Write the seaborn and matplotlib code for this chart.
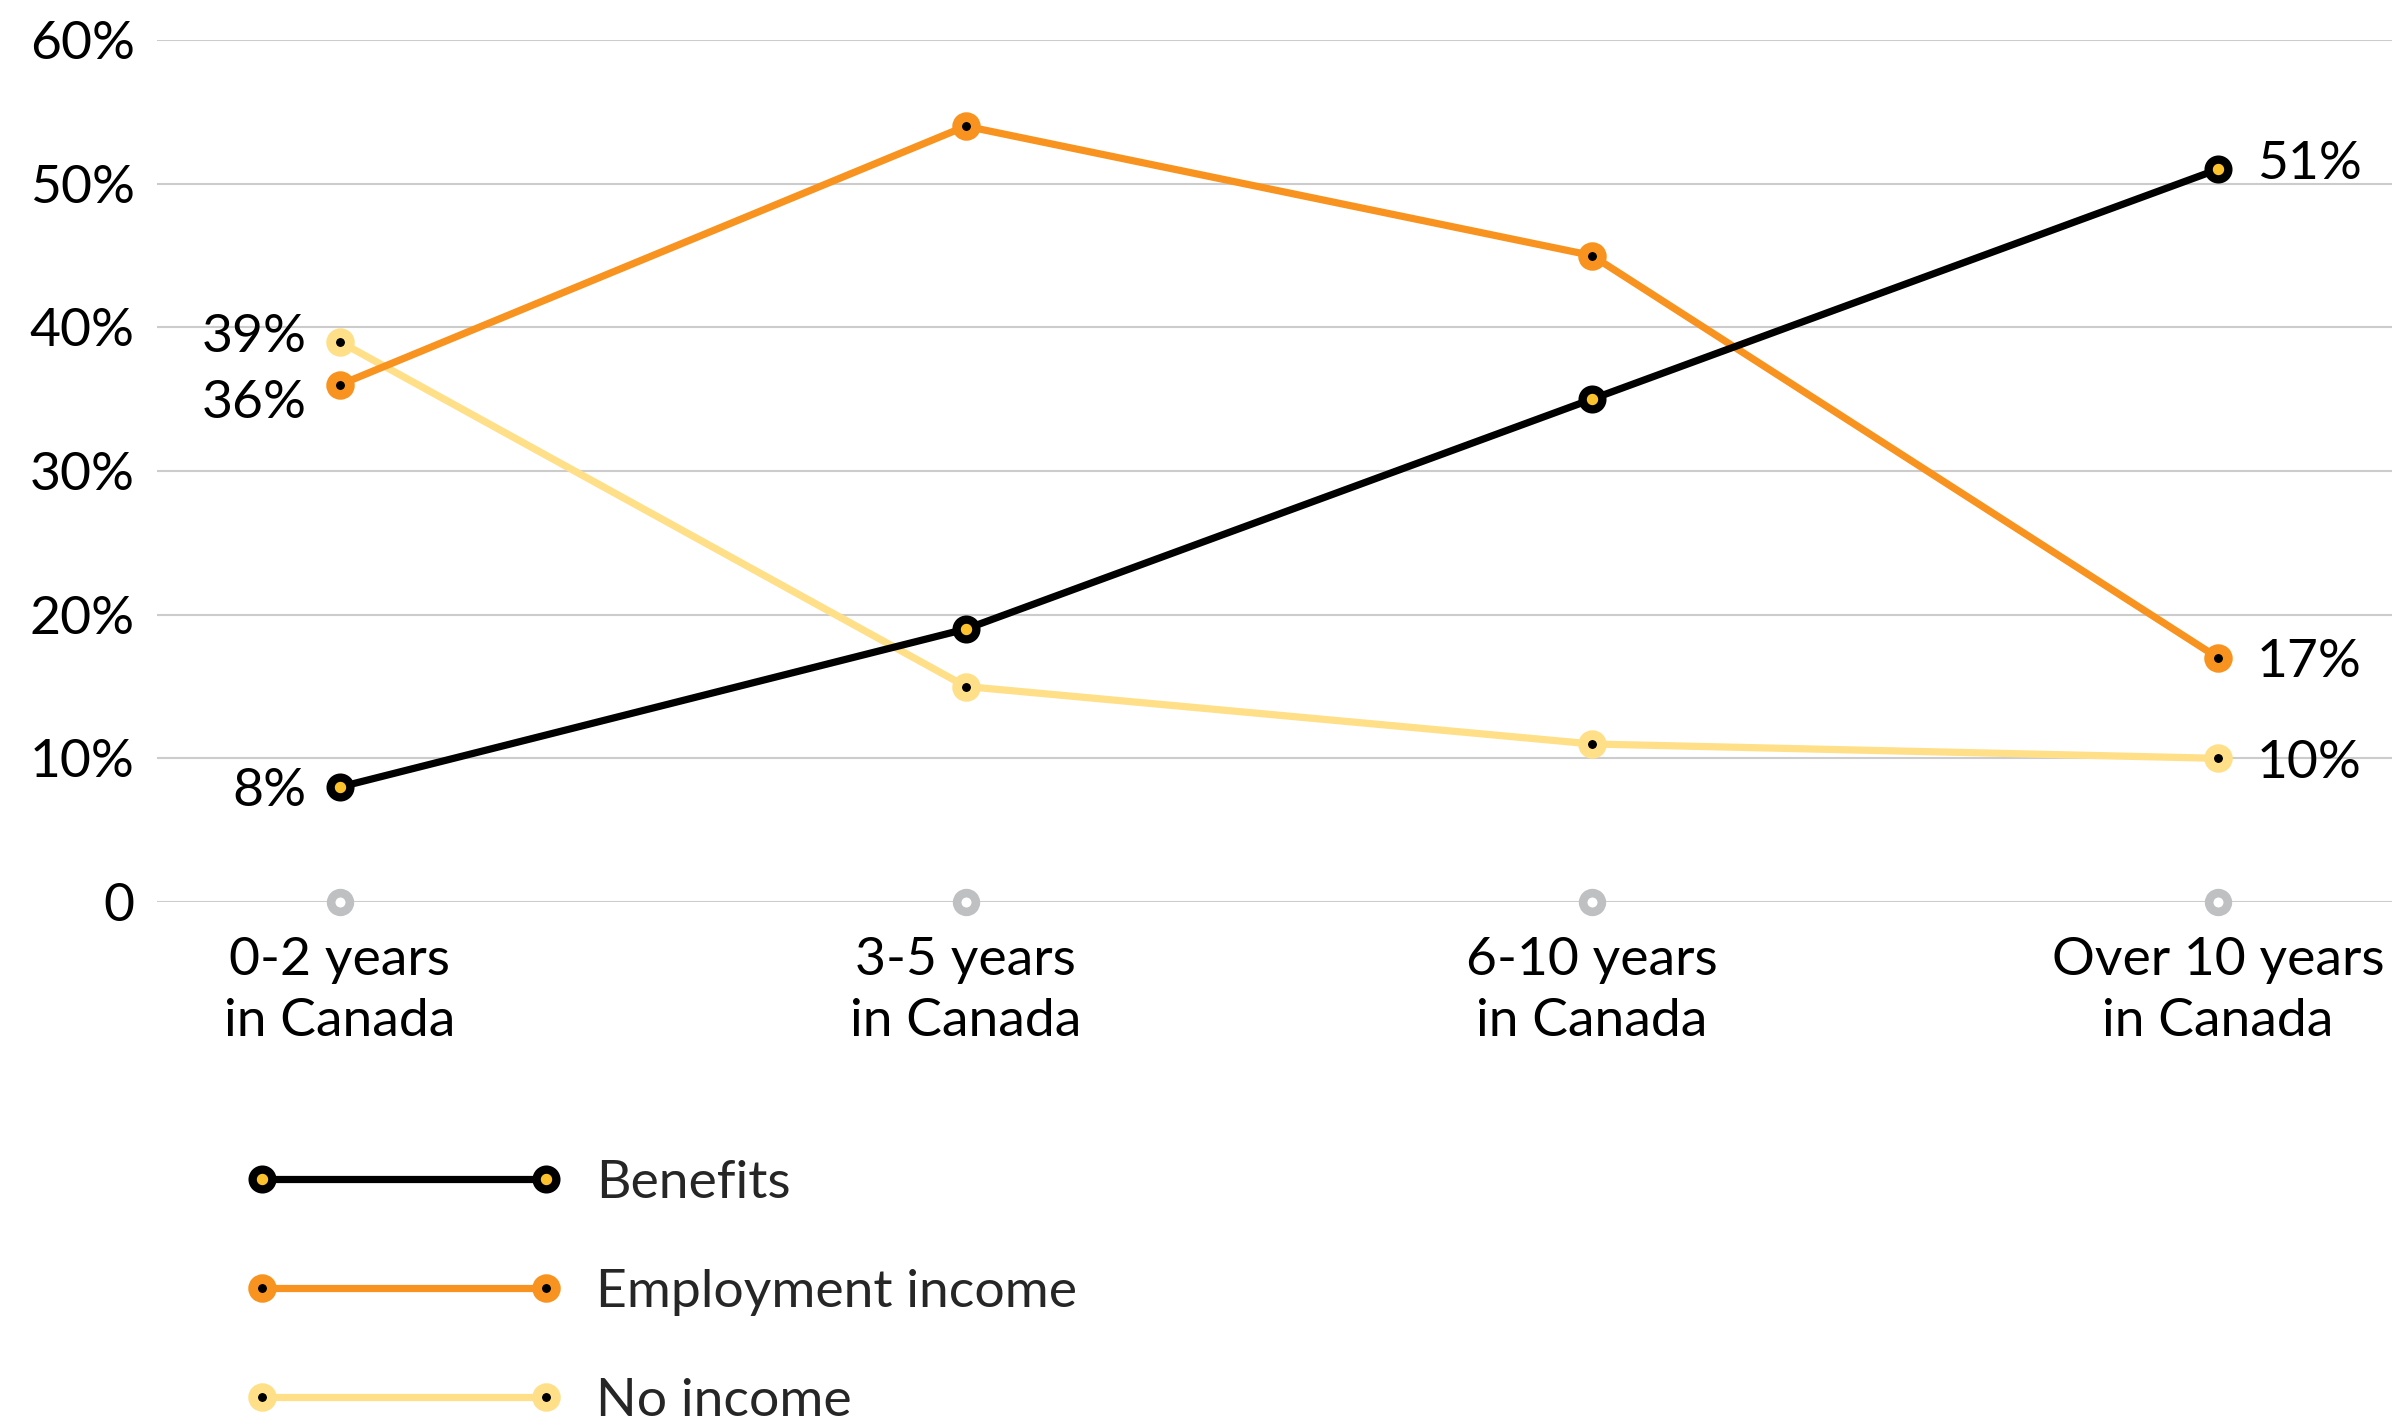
import matplotlib
matplotlib.use("Agg")
import matplotlib.pyplot as plt
import seaborn as sns
import pandas as pd
from matplotlib.lines import Line2D
from matplotlib.legend_handler import HandlerLine2D

# Share of households by main income source, by time in Canada
categories = ["0-2 years\nin Canada", "3-5 years\nin Canada",
              "6-10 years\nin Canada", "Over 10 years\nin Canada"]
benefits = [8, 19, 35, 51]
employment = [36, 54, 45, 17]
no_income = [39, 15, 11, 10]
series_names = ["Benefits", "Employment income", "No income"]
y_ticks = [0, 10, 20, 30, 40, 50, 60]
y_tick_labels = ["0", "10%", "20%", "30%", "40%", "50%", "60%"]

sns.set_theme(style="white")
plt.rcParams["font.family"] = ["Lato", "DejaVu Sans"]

FS = 38.5
LW = 5.2
line_col = {"Benefits": "#000000", "Employment income": "#F7931E", "No income": "#FFDF88"}
dot_col = {"Benefits": "#FBC22D", "Employment income": "#000000", "No income": "#000000"}

values = {"Benefits": benefits, "Employment income": employment, "No income": no_income}
x_pos = list(range(len(categories)))
df = pd.DataFrame({
    "pos": x_pos * 3,
    "value": benefits + employment + no_income,
    "series": sum([[s] * len(categories) for s in series_names], []),
})

fig = plt.figure(figsize=(23.92, 14.24), dpi=100)
ax = fig.add_axes([157 / 2392, 1 - 902 / 1424, 1 - 157 / 2392, (902 - 40) / 1424])

draw_order = ["No income", "Employment income", "Benefits"]
sns.lineplot(data=df, x="pos", y="value", hue="series", hue_order=draw_order,
             palette=line_col, linewidth=LW, legend=False, sort=False, ax=ax, zorder=3)


def marker_style(name):
    if name == "Benefits":
        return dict(marker="o", markersize=14.2, markeredgewidth=6.0,
                    markeredgecolor=line_col[name], markerfacecolor=dot_col[name])
    return dict(marker="o", markersize=13.5, markeredgewidth=7.0,
                markeredgecolor=line_col[name], markerfacecolor=dot_col[name])


for name in draw_order:
    ax.plot(x_pos, values[name], linestyle="none", zorder=4, clip_on=False,
            **marker_style(name))

# baseline rings at zero
ax.plot(x_pos, [0] * len(x_pos), linestyle="none", marker="o", markersize=13.5,
        markeredgewidth=6.2, markeredgecolor="#BFC0C2", markerfacecolor="white",
        zorder=4, clip_on=False)

# value labels at the ends of each series
first, last = 0, len(categories) - 1
left_labels = [("No income", -10), ("Employment income", -33), ("Benefits", -19)]
right_labels = [("Benefits", -10), ("Employment income", -19), ("No income", -20)]
for name, dy in left_labels:
    v = values[name][first]
    ax.annotate(f"{v}%", xy=(first, v), xytext=(-33, dy), textcoords="offset pixels",
                ha="right", va="baseline", fontsize=FS, color="black")
for name, dy in right_labels:
    v = values[name][last]
    ax.annotate(f"{v}%", xy=(last, v), xytext=(39, dy), textcoords="offset pixels",
                ha="left", va="baseline", fontsize=FS, color="black")

ax.set_xlim(-0.292, 3.278)
ax.set_ylim(0, 60)
ax.set_yticks(y_ticks)
ax.set_yticklabels(y_tick_labels)
ax.set_xticks(x_pos)
ax.set_xticklabels(categories)
ax.tick_params(axis="y", length=0, pad=16, labelsize=FS, labelcolor="black")
ax.tick_params(axis="x", length=0, pad=25, labelsize=FS, labelcolor="black")
for lab in ax.get_xticklabels():
    lab.set_linespacing(1.37)
ax.set_xlabel("")
ax.set_ylabel("")
ax.grid(axis="y", color="#CCCCCC", linewidth=1.5)
ax.grid(axis="x", visible=False)
for sp in ax.spines.values():
    sp.set_visible(False)

handles = [Line2D([0], [0], color=line_col[n], linewidth=LW, **marker_style(n))
           for n in series_names]
fig.legend(handles, series_names, loc="upper left",
           bbox_to_anchor=(262 / 2392, 1 - 1160 / 1424), frameon=False,
           fontsize=FS, numpoints=2, handlelength=5.31, handletextpad=0.93,
           labelspacing=1.16, borderpad=0, borderaxespad=0,
           handler_map={Line2D: HandlerLine2D(marker_pad=0)})

fig.savefig("out.png", dpi=100)
